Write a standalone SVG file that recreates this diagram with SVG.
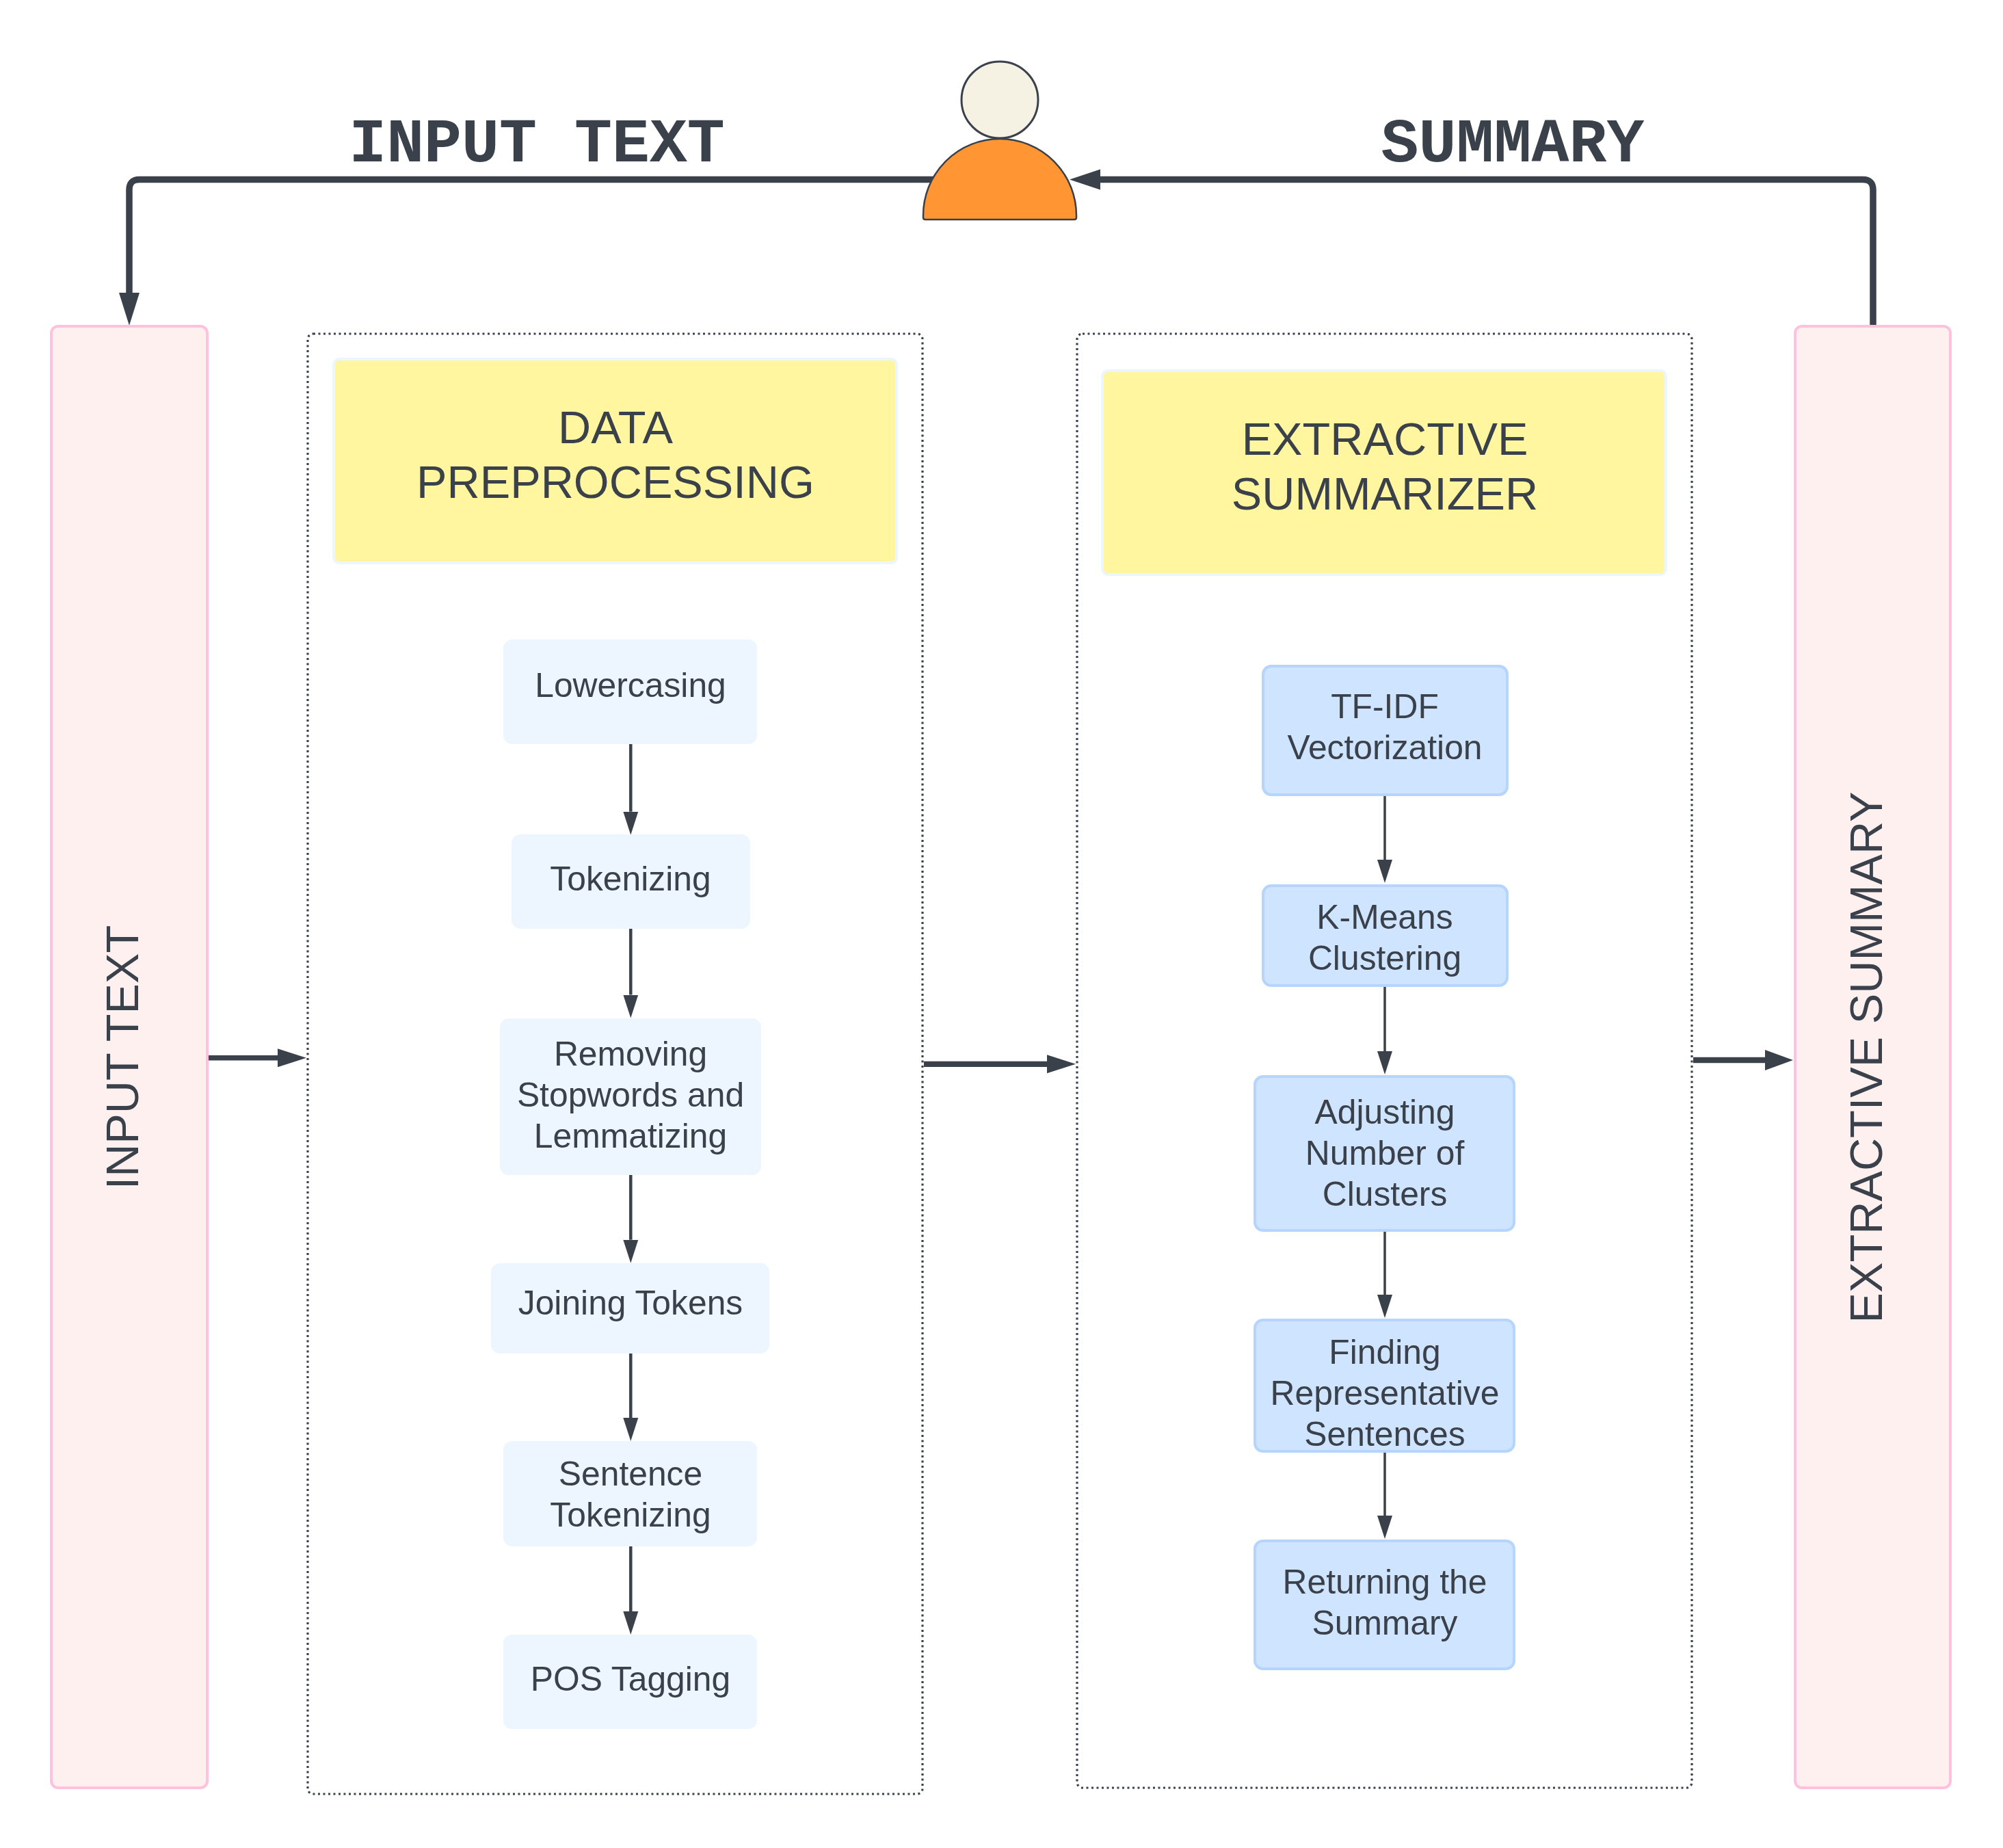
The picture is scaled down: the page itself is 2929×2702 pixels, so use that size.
<svg xmlns="http://www.w3.org/2000/svg" width="2929" height="2702" viewBox="0 0 2929 2702">
<style>
text{font-family:"Liberation Sans",Arial,sans-serif;fill:#3a414a;text-anchor:middle}
.n{font-size:49.8px}.h{font-size:66.7px}
.t{font-family:"Liberation Mono",monospace;font-weight:700;font-size:91.6px}
.pink{fill:#fff0f0;stroke:#ffc1dc;stroke-width:4}
.dot{fill:none;stroke:#3a414a;stroke-width:3.2;stroke-dasharray:3 4.5}
.yel{fill:#fff69f;stroke:#edf5ff;stroke-width:4}
.lb{fill:#edf5ff;stroke:#edf5ff;stroke-width:2}
.b{fill:#cfe4ff;stroke:#b5d5ff;stroke-width:4}
.c{fill:none;stroke:#3a414a}
.k{stroke-width:9.5}.m{stroke-width:8.3}.l{stroke-width:4.5}.r{stroke-width:3.5}
</style>
<defs>
<marker id="big" markerUnits="userSpaceOnUse" markerWidth="50" markerHeight="32" refX="0" refY="16" orient="auto"><path d="M0 1L48 16L0 31Z" fill="#3a414a"/></marker>
<marker id="top" markerUnits="userSpaceOnUse" markerWidth="50" markerHeight="32" refX="0" refY="16" orient="auto"><path d="M0 1L45 16L0 31Z" fill="#3a414a"/></marker>
<marker id="side" markerUnits="userSpaceOnUse" markerWidth="44" markerHeight="30" refX="0" refY="15" orient="auto"><path d="M0 1.5L42 15L0 28.5Z" fill="#3a414a"/></marker>
<marker id="side2" markerUnits="userSpaceOnUse" markerWidth="44" markerHeight="32" refX="0" refY="16" orient="auto"><path d="M0 1L41 16L0 31Z" fill="#3a414a"/></marker>
<marker id="s" markerUnits="userSpaceOnUse" markerWidth="36" markerHeight="24" refX="0" refY="12" orient="auto"><path d="M0 1L34 12L0 23Z" fill="#3a414a"/></marker>
</defs>
<g id="connectors">
<path class="c k" marker-end="url(#big)" d="M1400 262.500H204Q189 262.500 189 277.500V428"/>
<path class="c k" marker-end="url(#top)" d="M2739 477V277.500Q2739 262.500 2724 262.500H1609"/>
<path class="c" stroke-width="7.500" marker-end="url(#side)" d="M305 1546.700H406"/>
<path class="c m" marker-end="url(#side)" d="M1351 1555.800H1531"/>
<path class="c m" marker-end="url(#side2)" d="M2476 1550H2581"/>
<path class="c l" marker-end="url(#s)" d="M922.300 1088V1186.700"/>
<path class="c l" marker-end="url(#s)" d="M922.300 1358V1454.500"/>
<path class="c l" marker-end="url(#s)" d="M922.300 1718V1812.700"/>
<path class="c l" marker-end="url(#s)" d="M922.300 1978V2073"/>
<path class="c l" marker-end="url(#s)" d="M922.300 2261V2356"/>
<path class="c r" marker-end="url(#s)" d="M2025 1163V1257"/>
<path class="c r" marker-end="url(#s)" d="M2025 1443V1537"/>
<path class="c r" marker-end="url(#s)" d="M2025 1801V1893"/>
<path class="c r" marker-end="url(#s)" d="M2025 2124V2216"/>
</g>
<g id="user"><circle cx="1462" cy="146" r="56" fill="#f5f2e3" stroke="#3a414a" stroke-width="3"/><path d="M1350 315A112 112 0 0 1 1574 315V318Q1574 321 1571 321H1353Q1350 321 1350 318Z" fill="#ff9533" stroke="#3a414a" stroke-width="2.500"/></g>
<g id="label-input"><text class="t" x="785" y="236">INPUT TEXT</text></g>
<g id="label-summary"><text class="t" x="2212" y="236">SUMMARY</text></g>
<g id="input"><rect class="pink" x="75" y="477" width="228" height="2137" rx="10"/><text class="h" transform="translate(202 1546) rotate(-90)">INPUT TEXT</text></g>
<g id="output"><rect class="pink" x="2625" y="477" width="227" height="2137" rx="10"/><text class="h" transform="translate(2752 1546) rotate(-90)">EXTRACTIVE SUMMARY</text></g>
<g id="preprocess-frame"><rect class="dot" x="450" y="488" width="899" height="2135" rx="8"/></g>
<g id="extract-frame"><rect class="dot" x="1575" y="488" width="899" height="2126" rx="8"/></g>
<g id="h1"><rect class="yel" x="488" y="525" width="823" height="298" rx="8"/><text class="h"><tspan x="900" y="648">DATA</tspan><tspan x="900" y="728">PREPROCESSING</tspan></text></g>
<g id="h2"><rect class="yel" x="1612" y="542" width="824" height="298" rx="8"/><text class="h"><tspan x="2025" y="665">EXTRACTIVE</tspan><tspan x="2025" y="745">SUMMARIZER</tspan></text></g>
<g id="n1"><rect class="lb" x="737" y="936" width="369" height="151" rx="12"/><text class="n" x="922" y="1019">Lowercasing</text></g>
<g id="n2"><rect class="lb" x="749" y="1221" width="347" height="136" rx="12"/><text class="n" x="922" y="1302">Tokenizing</text></g>
<g id="n3"><rect class="lb" x="732" y="1490" width="380" height="227" rx="12"/><text class="n"><tspan x="922" y="1558">Removing</tspan><tspan x="922" y="1618">Stopwords and</tspan><tspan x="922" y="1678">Lemmatizing</tspan></text></g>
<g id="n4"><rect class="lb" x="719" y="1848" width="405" height="130" rx="12"/><text class="n" x="922" y="1922">Joining Tokens</text></g>
<g id="n5"><rect class="lb" x="737" y="2108" width="369" height="152" rx="12"/><text class="n"><tspan x="922" y="2172">Sentence</tspan><tspan x="922" y="2232">Tokenizing</tspan></text></g>
<g id="n6"><rect class="lb" x="737" y="2391" width="369" height="136" rx="12"/><text class="n" x="922" y="2472">POS Tagging</text></g>
<g id="m1"><rect class="b" x="1847" y="974" width="357" height="188" rx="12"/><text class="n"><tspan x="2025" y="1050">TF-IDF</tspan><tspan x="2025" y="1110">Vectorization</tspan></text></g>
<g id="m2"><rect class="b" x="1847" y="1295" width="357" height="146" rx="12"/><text class="n"><tspan x="2025" y="1358">K-Means</tspan><tspan x="2025" y="1418">Clustering</tspan></text></g>
<g id="m3"><rect class="b" x="1835" y="1574" width="379" height="225" rx="12"/><text class="n"><tspan x="2025" y="1643">Adjusting</tspan><tspan x="2025" y="1703">Number of</tspan><tspan x="2025" y="1763">Clusters</tspan></text></g>
<g id="m4"><rect class="b" x="1835" y="1930" width="379" height="192" rx="12"/><text class="n"><tspan x="2025" y="1994">Finding</tspan><tspan x="2025" y="2054">Representative</tspan><tspan x="2025" y="2114">Sentences</tspan></text></g>
<g id="m5"><rect class="b" x="1835" y="2253" width="379" height="187" rx="12"/><text class="n"><tspan x="2025" y="2330">Returning the</tspan><tspan x="2025" y="2390">Summary</tspan></text></g>
</svg>
